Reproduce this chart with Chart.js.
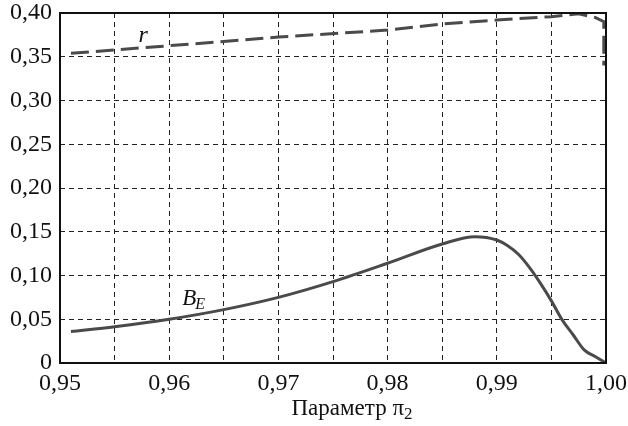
<!DOCTYPE html>
<html>
<head>
<meta charset="utf-8">
<script src="https://cdn.jsdelivr.net/npm/chart.js@4/dist/chart.umd.min.js"></script>
<style>
  html, body { margin: 0; padding: 0; background: #fff; }
  #wrap { width: 628px; height: 426px; }
</style>
</head>
<body>
<div id="wrap"><canvas id="chart" width="628" height="426"></canvas></div>
<script>
// r curve (dashed)
const rX = [0.951, 0.955, 0.96, 0.97, 0.98, 0.985, 0.99, 0.995, 0.9975, 0.999, 0.9998, 0.9998];
const rY = [0.354, 0.3577, 0.3626, 0.3725, 0.3805, 0.3874, 0.392, 0.3958, 0.399, 0.395, 0.390, 0.340];

// B_E curve (solid)
const bX = [0.951, 0.955, 0.96, 0.965, 0.97, 0.975, 0.98, 0.985, 0.988, 0.99, 0.991, 0.992, 0.993, 0.994, 0.995, 0.996, 0.997, 0.998, 0.999, 1.0];
const bY = [0.036, 0.0415, 0.050, 0.061, 0.075, 0.093, 0.114, 0.136, 0.1444, 0.1406, 0.134, 0.124, 0.109, 0.091, 0.071, 0.049, 0.032, 0.015, 0.0075, 0.0];

// axes
const xTicks = [0.95, 0.955, 0.96, 0.965, 0.97, 0.975, 0.98, 0.985, 0.99, 0.995, 1.0];
const xLabels = ['0,95', '', '0,96', '', '0,97', '', '0,98', '', '0,99', '', '1,00'];
const yTicks = [0, 0.05, 0.10, 0.15, 0.20, 0.25, 0.30, 0.35, 0.40];
const yLabels = ['0', '0,05', '0,10', '0,15', '0,20', '0,25', '0,30', '0,35', '0,40'];

const serif = '"Liberation Serif", "DejaVu Serif", serif';
const lineColor = '#4a4a4a';

function toPoints(xs, ys) {
  return xs.map((x, i) => ({ x: x, y: ys[i] }));
}

// frame, curve labels and x axis title
const decor = {
  id: 'decor',
  afterDraw(chart) {
    const ctx = chart.ctx;
    const a = chart.chartArea;
    const sx = chart.scales.x, sy = chart.scales.y;
    ctx.save();
    ctx.strokeStyle = '#111';
    ctx.lineWidth = 2;
    ctx.setLineDash([]);
    ctx.strokeRect(a.left, a.top, a.right - a.left, a.bottom - a.top);

    ctx.fillStyle = '#111';
    ctx.textBaseline = 'alphabetic';
    // r
    ctx.font = 'italic 24px ' + serif;
    ctx.textAlign = 'left';
    ctx.fillText('r', sx.getPixelForValue(0.9572), sy.getPixelForValue(0.367));
    // B_E
    ctx.font = 'italic 23px ' + serif;
    const bx = sx.getPixelForValue(0.9612), by = sy.getPixelForValue(0.066);
    ctx.fillText('B', bx, by);
    const bw = ctx.measureText('B').width;
    ctx.font = 'italic 16px ' + serif;
    ctx.fillText('E', bx + bw - 1, by + 4);

    // x title
    ctx.font = '23px ' + serif;
    const t = 'Параметр π';
    const tw = ctx.measureText(t).width;
    ctx.font = '17px ' + serif;
    const sw = ctx.measureText('2').width;
    const cx = (a.left + a.right) / 2 + 19;
    const x0 = cx - (tw + sw) / 2;
    ctx.font = '23px ' + serif;
    ctx.fillText(t, x0, 415);
    ctx.font = '17px ' + serif;
    ctx.fillText('2', x0 + tw, 419);
    ctx.restore();
  }
};

new Chart(document.getElementById('chart'), {
  type: 'line',
  data: {
    datasets: [
      {
        label: 'r',
        data: toPoints(rX, rY),
        borderColor: lineColor,
        borderWidth: 3,
        borderDash: [18, 7],
        pointRadius: 0,
        fill: false,
        tension: 0
      },
      {
        label: 'B_E',
        data: toPoints(bX, bY),
        borderColor: lineColor,
        borderWidth: 3,
        pointRadius: 0,
        fill: false,
        cubicInterpolationMode: 'monotone'
      }
    ]
  },
  options: {
    responsive: false,
    animation: false,
    layout: { padding: { top: 13, right: 22, left: 0, bottom: 0 } },
    plugins: { legend: { display: false }, tooltip: { enabled: false } },
    scales: {
      x: {
        type: 'linear',
        min: 0.95,
        max: 1.0,
        afterBuildTicks(scale) { scale.ticks = xTicks.map(v => ({ value: v })); },
        afterFit(scale) {
          scale.height = 63;
          scale.paddingLeft = 0; scale.paddingRight = 0;
        },
        ticks: {
          autoSkip: false,
          maxRotation: 0,
          padding: 6,
          color: '#111',
          font: { family: serif, size: 24 },
          callback: (v, i) => xLabels[i]
        },
        grid: {
          color: '#222',
          lineWidth: 1,
          drawTicks: false
        },
        border: { display: false, dash: [5, 4] }
      },
      y: {
        min: 0,
        max: 0.40,
        afterBuildTicks(scale) { scale.ticks = yTicks.map(v => ({ value: v })); },
        afterFit(scale) {
          scale.width = 60;
          scale.paddingTop = 0; scale.paddingBottom = 0;
        },
        ticks: {
          autoSkip: false,
          padding: 8,
          color: '#111',
          font: { family: serif, size: 24 },
          callback: (v, i) => yLabels[i]
        },
        grid: {
          color: '#222',
          lineWidth: 1,
          drawTicks: false
        },
        border: { display: false, dash: [5, 4] }
      }
    }
  },
  plugins: [decor]
});
</script>
</body>
</html>
